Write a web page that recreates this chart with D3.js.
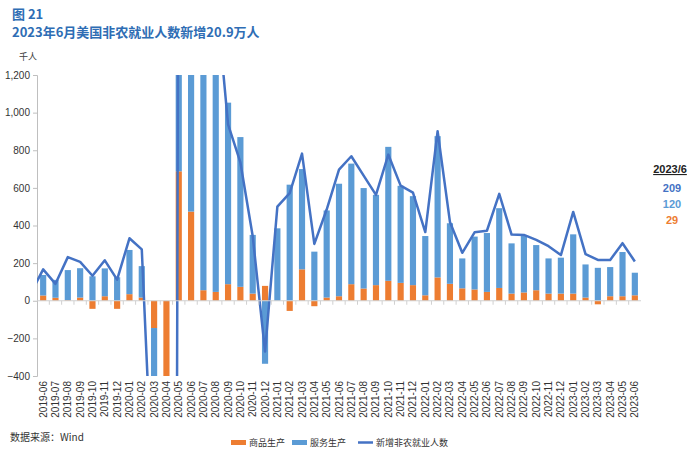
<!DOCTYPE html>
<html>
<head>
<meta charset="utf-8">
<script src="https://cdn.jsdelivr.net/npm/d3@7"></script>
<style>
  body { margin: 0; background: #fff; }
  svg { display: block; font-family: "Noto Sans CJK SC", "Noto Sans", sans-serif; }
</style>
</head>
<body>
<svg id="chart" width="700" height="456"></svg>
<script>
// months on the x axis
var months = ["2019-06","2019-07","2019-08","2019-09","2019-10","2019-11","2019-12",
  "2020-01","2020-02","2020-03","2020-04","2020-05","2020-06","2020-07","2020-08","2020-09","2020-10","2020-11","2020-12",
  "2021-01","2021-02","2021-03","2021-04","2021-05","2021-06","2021-07","2021-08","2021-09","2021-10","2021-11","2021-12",
  "2022-01","2022-02","2022-03","2022-04","2022-05","2022-06","2022-07","2022-08","2022-09","2022-10","2022-11","2022-12",
  "2023-01","2023-02","2023-03","2023-04","2023-05","2023-06"];

// 商品生产 (thousands)
var goods = [28,16,3,17,-43,24,-43,
  35,17,-145,-2400,688,474,56,47,88,74,38,79,
  0,-54,167,-29,17,24,88,65,83,106,95,83,
  29,124,90,66,60,47,68,38,44,56,38,38,
  38,17,-19,24,24,29];

// 服务生产 (thousands)
var services = [109,95,160,156,130,148,125,
  235,167,-1000,-17000,2200,4000,1500,1450,965,796,312,-335,
  385,617,533,261,463,598,641,534,480,712,516,473,
  315,751,322,159,281,313,424,267,300,240,187,191,
  315,176,175,155,235,120];

// 新增非农就业人数 (thousands)
var total = [167,90,232,207,133,215,112,
  332,273,-1190,-20500,2800,4800,1700,1650,937,735,343,-270,
  500,572,782,302,485,697,768,665,563,777,612,575,
  365,901,419,255,364,372,568,352,350,324,290,243,
  472,248,217,217,306,209];
var totalBefore = 40; // 2019-05, only the clipped start of the line shows

var yTicks = [-400,-200,0,200,400,600,800,1000,1200];
var latest = {label: "2023/6", total: 209, services: 120, goods: 29};

var svg = d3.select("#chart");
var plotL = 37, plotR = 641, plotT = 75, plotB = 376;

var x = d3.scaleBand().domain(months).range([plotL, plotR]).paddingInner(0.5).paddingOuter(0.25);
var y = d3.scaleLinear().domain([-400, 1200]).range([plotB, plotT]);
var step = x.step();
var cx = function(m) { return x(m) + x.bandwidth() / 2; };

var orange = "#ED7D31", blue = "#5B9BD5", lineBlue = "#4472C4";

// titles
svg.append("text").attr("x", 12).attr("y", 19).attr("fill", "#2E6DB4")
  .style("font-size", "13px").style("font-weight", "bold").text("图 21");
svg.append("text").attr("x", 12).attr("y", 37).attr("fill", "#2E6DB4")
  .style("font-size", "13px").style("font-weight", "bold").text("2023年6月美国非农就业人数新增20.9万人");
svg.append("text").attr("x", 19).attr("y", 60).attr("fill", "#404040")
  .style("font-size", "9px").text("千人");

svg.append("defs").append("clipPath").attr("id", "plot")
  .append("rect").attr("x", plotL).attr("y", plotT).attr("width", plotR - plotL + 6).attr("height", plotB - plotT);

// y axis
var yAxis = svg.append("g").attr("transform", "translate(" + plotL + ",0)")
  .call(d3.axisLeft(y).tickValues(yTicks).tickSize(4).tickFormat(d3.format(",")));
yAxis.select(".domain").attr("stroke", "#bfbfbf");
yAxis.selectAll(".tick line").attr("stroke", "#bfbfbf");
yAxis.selectAll(".tick text").attr("fill", "#333").style("font-size", "10px")
  .style("font-family", "Liberation Sans, Arial, sans-serif").attr("x", -7);

// stacked bars
var rows = months.map(function(m, i) { return {month: m, goods: goods[i], services: services[i]}; });
var stacked = d3.stack().keys(["goods", "services"]).offset(d3.stackOffsetDiverging)(rows);
var colors = {goods: orange, services: blue};

var plot = svg.append("g").attr("clip-path", "url(#plot)");
stacked.forEach(function(layer) {
  plot.selectAll(".bar-" + layer.key)
    .data(layer)
    .enter().append("rect")
      .attr("class", "bar-" + layer.key)
      .attr("x", d => x(d.data.month))
      .attr("width", x.bandwidth())
      .attr("y", d => y(Math.max(d[0], d[1])))
      .attr("height", d => Math.abs(y(d[0]) - y(d[1])))
      .attr("fill", colors[layer.key]);
});

// zero line with category ticks
var xAxis = svg.append("g").attr("transform", "translate(0," + y(0) + ")");
xAxis.append("line").attr("x1", plotL).attr("x2", plotR).attr("stroke", "#d0d0d0");
xAxis.selectAll(".ctick").data(months.slice(1))
  .enter().append("line")
    .attr("x1", d => x(d) - step * x.paddingInner() / 2)
    .attr("x2", d => x(d) - step * x.paddingInner() / 2)
    .attr("y1", 0).attr("y2", 4).attr("stroke", "#d0d0d0");

// x labels
svg.append("g").selectAll("text").data(months)
  .enter().append("text")
    .attr("transform", d => "translate(" + (cx(d) + 3.5) + ",381) rotate(-90)")
    .attr("text-anchor", "end")
    .attr("fill", "#333")
    .style("font-size", "10px")
    .style("font-family", "Liberation Sans, Arial, sans-serif")
    .text(d => d);

// total line
var pts = [[cx(months[0]) - step, totalBefore]].concat(months.map((m, i) => [cx(m), total[i]]));
plot.append("path")
  .datum(pts)
  .attr("fill", "none")
  .attr("stroke", lineBlue)
  .attr("stroke-width", 2.5)
  .attr("stroke-linejoin", "round")
  .attr("d", d3.line().x(d => d[0]).y(d => y(d[1])));

// latest month note
var note = svg.append("g").attr("text-anchor", "middle").style("font-size", "11px")
  .style("font-family", "Liberation Sans, Arial, sans-serif");
note.append("text").attr("x", 670).attr("y", 173).attr("fill", "#222").style("font-weight", "bold")
  .style("text-decoration", "underline").text(latest.label);
note.append("text").attr("x", 672).attr("y", 192).attr("fill", lineBlue).style("font-weight", "bold").text(latest.total);
note.append("text").attr("x", 672).attr("y", 208).attr("fill", blue).style("font-weight", "bold").text(latest.services);
note.append("text").attr("x", 672).attr("y", 224).attr("fill", orange).style("font-weight", "bold").text(latest.goods);

// source
svg.append("text").attr("x", 10).attr("y", 441).attr("fill", "#333").style("font-size", "10px")
  .text("数据来源：Wind");

// legend
var legend = [
  {name: "商品生产", color: orange, type: "bar", x: 231},
  {name: "服务生产", color: blue, type: "bar", x: 292},
  {name: "新增非农就业人数", color: lineBlue, type: "line", x: 358}
];
var lg = svg.append("g");
legend.forEach(function(l) {
  if (l.type === "bar") {
    lg.append("rect").attr("x", l.x).attr("y", 440).attr("width", 15).attr("height", 5).attr("fill", l.color);
  } else {
    lg.append("line").attr("x1", l.x).attr("x2", l.x + 15).attr("y1", 442.5).attr("y2", 442.5)
      .attr("stroke", l.color).attr("stroke-width", 2.5);
  }
  lg.append("text").attr("x", l.x + 18).attr("y", 446).attr("fill", "#333").style("font-size", "9px").text(l.name);
});
</script>
</body>
</html>
